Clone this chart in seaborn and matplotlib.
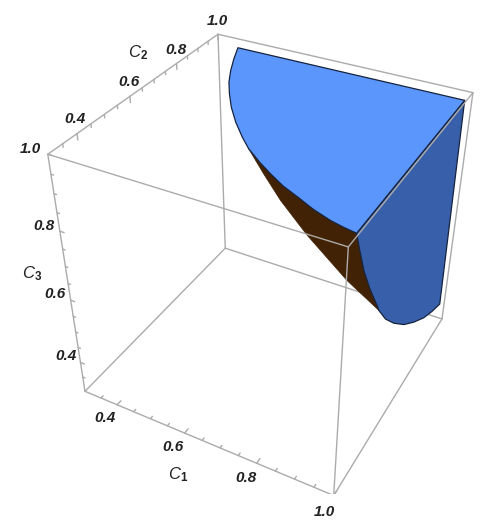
import numpy as np
import pandas as pd
import seaborn as sns
import matplotlib
matplotlib.use('Agg')
import matplotlib.pyplot as plt
from mpl_toolkits.mplot3d import proj3d
from mpl_toolkits.mplot3d.art3d import Poly3DCollection

sns.set_style('white')
plt.rcParams['font.family'] = ['Liberation Sans', 'DejaVu Sans']
plt.rcParams['mathtext.fontset'] = 'custom'
plt.rcParams['mathtext.rm'] = 'Liberation Sans:bold'
plt.rcParams['mathtext.it'] = 'Liberation Sans:italic'

axis_min = 0.3
axis_max = 1.0
major_ticks = [0.4, 0.6, 0.8, 1.0]
minor_ticks = [0.35, 0.45, 0.5, 0.55, 0.65, 0.7, 0.75, 0.85, 0.9, 0.95]
tick_labels = ['0.4', '0.6', '0.8', '1.0']

# flat face of the region at C3 = face_level
face_level = 0.987
top_c1 = [0.371, 0.395, 0.422, 0.451, 0.483, 0.521, 0.566, 0.613, 0.650, 0.697, 0.741, 0.786, 0.836, 0.878, 0.925, 0.958, 0.987, 0.987]
top_c2 = [0.979, 0.917, 0.855, 0.797, 0.745, 0.689, 0.632, 0.580, 0.543, 0.506, 0.475, 0.446, 0.421, 0.399, 0.380, 0.371, 0.365, 0.980]

# flat face at C1 = face_level
side_c2 = [0.365, 0.387, 0.416, 0.457, 0.509, 0.522, 0.570, 0.630, 0.706, 0.784, 0.865, 0.934, 0.998, 0.980]
side_c3 = [0.987, 0.932, 0.863, 0.787, 0.703, 0.680, 0.619, 0.561, 0.499, 0.448, 0.402, 0.373, 0.352, 0.987]

# outline of the curved underside between the two faces
rim_c1 = [0.904, 0.803, 0.736, 0.694]
rim_c2 = [0.530, 0.530, 0.530, 0.530]
rim_c3 = [0.727, 0.816, 0.887, 0.943]

df_top = pd.DataFrame({'c1': top_c1, 'c2': top_c2, 'c3': face_level})
df_side = pd.DataFrame({'c1': face_level, 'c2': side_c2, 'c3': side_c3})
df_rim = pd.DataFrame({'c1': rim_c1, 'c2': rim_c2, 'c3': rim_c3})
df_under = pd.concat([df_top.iloc[8:17], df_side.iloc[1:6], df_rim])

colors = sns.color_palette(['#5b96fc', '#3860aa', '#412204'])
box_color = '#ababab'
edge_color = '#16233f'
text_color = '#222222'

fig = plt.figure(figsize=(4.94, 5.2), dpi=100, facecolor='white')
ax = fig.add_axes([0, 0, 1, 1], projection='3d', computed_zorder=False)
ax.set_xlim(axis_min, axis_max)
ax.set_ylim(axis_min, axis_max)
ax.set_zlim(axis_min, axis_max)
ax.view_init(36.1803, -61.6561, -0.0485)
ax.set_proj_type('persp', focal_length=0.3735)
ax.set_box_aspect((1.0023, 1.0042, 1))
ax.set_axis_off()
ax.patch.set_visible(False)

# place the axes so the 3D box lands where it does in the picture
scale, center_x, center_y = 2594.86, 271.53, 247.71
x_lo, x_hi = ax.viewLim.intervalx
y_lo, y_hi = ax.viewLim.intervaly
ax.set_aspect('auto')
ax.set_position([(center_x + scale * x_lo) / 494, (520 - center_y + scale * y_lo) / 520,
                 scale * (x_hi - x_lo) / 494, scale * (y_hi - y_lo) / 520])


def edge(start, end, zorder):
    ax.plot([start[0], end[0]], [start[1], end[1]], [start[2], end[2]], color=box_color, lw=1.0, zorder=zorder)


def label(c1, c2, c3, text, **style):
    # 2D text at the projected spot, so its box is in screen units
    x, y, _ = proj3d.proj_transform(c1, c2, c3, ax.get_proj())
    ax.text2D(x, y, text, transform=ax.transData, ha='center', va='center', color=text_color, zorder=6, **style)


lo, hi = axis_min, axis_max
back_edges = [((lo, lo, lo), (hi, lo, lo)), ((lo, lo, lo), (lo, hi, lo)), ((lo, lo, lo), (lo, lo, hi)),
              ((hi, lo, lo), (hi, hi, lo)), ((lo, hi, lo), (hi, hi, lo)), ((lo, hi, lo), (lo, hi, hi)),
              ((hi, hi, lo), (hi, hi, hi)), ((lo, lo, hi), (lo, hi, hi)), ((lo, hi, hi), (hi, hi, hi))]
front_edges = [((lo, lo, hi), (hi, lo, hi)), ((hi, lo, hi), (hi, hi, hi)), ((hi, lo, lo), (hi, lo, hi))]
for start, end in back_edges:
    edge(start, end, 1)
for start, end in front_edges:
    edge(start, end, 5)

# tick marks on the three labelled edges
for values, c1_len, c2_len, c3_len in [(major_ticks, 0.012, 0.016, 0.016), (minor_ticks, 0.007, 0.009, 0.009)]:
    for v in values:
        edge((v, lo, lo), (v, lo + c2_len, lo), 1)
        edge((lo, v, hi), (lo, v, hi - c3_len), 1)
        edge((lo, lo, v), (lo + c1_len, lo, v), 1)

cols = ['c1', 'c2', 'c3']
ax.add_collection3d(Poly3DCollection([df_under[cols].values], facecolor=colors[2], edgecolor=colors[2], linewidth=0.5, zorder=2))
ax.add_collection3d(Poly3DCollection([df_side[cols].values], facecolor=colors[1], edgecolor=edge_color, linewidth=0.9, zorder=3))
ax.add_collection3d(Poly3DCollection([df_top[cols].values], facecolor=colors[0], edgecolor=edge_color, linewidth=0.9, zorder=4))

for v, text in zip(major_ticks, tick_labels):
    label(v, 0.249, lo, text, fontsize=11, fontweight='bold', fontstyle='italic')
    label(lo, v, 1.036, text, fontsize=11, fontweight='bold', fontstyle='italic')
    label(0.254, lo, v, text, fontsize=11, fontweight='bold', fontstyle='italic')

label(0.657, 0.183, lo, r'$\mathit{C}_{\mathrm{1}}$', fontsize=12)
label(lo, 0.646, 1.091, r'$\mathit{C}_{\mathrm{2}}$', fontsize=12)
label(0.191, lo, 0.638, r'$\mathit{C}_{\mathrm{3}}$', fontsize=12)

plt.savefig('out.png', dpi=100)
